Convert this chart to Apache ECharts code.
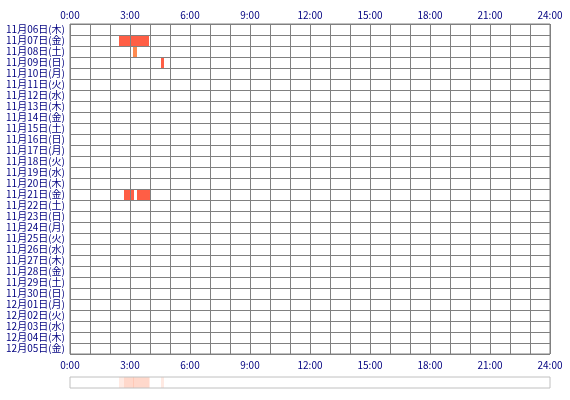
<!DOCTYPE html>
<html>
<head>
<meta charset="utf-8">
<script src="https://cdn.jsdelivr.net/npm/echarts@6/dist/echarts.min.js"></script>
<style>html,body{margin:0;padding:0;background:#fff;}#c{width:570px;height:400px;}</style>
</head>
<body>
<div id="c"></div>
<script>
var days = ['11月06日(木)','11月07日(金)','11月08日(土)','11月09日(日)','11月10日(月)','11月11日(火)','11月12日(水)','11月13日(木)','11月14日(金)','11月15日(土)','11月16日(日)','11月17日(月)','11月18日(火)','11月19日(水)','11月20日(木)','11月21日(金)','11月22日(土)','11月23日(日)','11月24日(月)','11月25日(火)','11月26日(水)','11月27日(木)','11月28日(金)','11月29日(土)','11月30日(日)','12月01日(月)','12月02日(火)','12月03日(水)','12月04日(木)','12月05日(金)'];
// [dayIndex, startHour, endHour, kind]
var sessions = [
  [1, 2.45, 3.95, 0],
  [2, 3.15, 3.35, 1],
  [3, 4.55, 4.7, 0],
  [15, 2.7, 3.2, 0],
  [15, 3.35, 4.0, 0]
];
var kindColors = ['#ff5e45', '#ff8a50'];
var hourTicks = [0,3,6,9,12,15,18,21,24];

var font = {color:'#000080', fontSize:10, fontFamily:'"Noto Sans CJK JP", sans-serif'};
var chart = echarts.init(document.getElementById('c'), null, {renderer:'canvas'});

function xAxisDef(pos, margin) {
  return {
    type:'value', gridIndex:0, position:pos, min:0, max:24, interval:1,
    axisLine:{show:false}, axisTick:{show:false},
    axisLabel:{margin:margin, color:font.color, fontSize:font.fontSize, fontFamily:font.fontFamily,
      formatter:function(v){ return hourTicks.indexOf(v)>=0 ? v+':00' : ''; }},
    splitLine:{show:pos==='top', lineStyle:{color:'#808080', width:1}},
    z:5
  };
}

chart.setOption({
  animation:false,
  backgroundColor:'#fff',
  grid:[
    {left:70, right:20, top:24, height:330, show:true, borderColor:'#808080', borderWidth:1, backgroundColor:'transparent', z:5},
    {left:70, right:20, top:377, height:11, show:true, borderColor:'#c0c0c0', borderWidth:1, backgroundColor:'transparent', z:5}
  ],
  xAxis:[
    xAxisDef('top', 4),
    xAxisDef('bottom', 6),
    {type:'value', gridIndex:1, min:0, max:24, show:false}
  ],
  yAxis:[
    {type:'category', gridIndex:0, data:days, inverse:true, boundaryGap:true,
     axisLine:{show:false}, axisTick:{show:false},
     axisLabel:{margin:5, color:font.color, fontSize:font.fontSize, fontFamily:font.fontFamily, interval:0},
     splitLine:{show:true, interval:0, lineStyle:{color:'#808080', width:1}}, z:5},
    {type:'value', gridIndex:1, min:0, max:1, show:false}
  ],
  series:[
    {type:'custom', xAxisIndex:0, yAxisIndex:0, z:2,
     data:sessions,
     encode:{x:[1,2], y:0},
     renderItem:function(params, api){
       var s = api.coord([api.value(1), api.value(0)]);
       var e = api.coord([api.value(2), api.value(0)]);
       var h = api.size([0,1])[1];
       return {type:'rect', shape:{x:s[0], y:s[1]-h/2, width:e[0]-s[0], height:h},
               style:{fill:kindColors[api.value(3)]}};
     }},
    {type:'custom', xAxisIndex:2, yAxisIndex:1, z:2,
     data:sessions,
     encode:{x:[1,2]},
     renderItem:function(params, api){
       var s = api.coord([api.value(1), 1]);
       var e = api.coord([api.value(2), 0]);
       return {type:'rect', shape:{x:s[0], y:s[1], width:e[0]-s[0], height:e[1]-s[1]},
               style:{fill:'#ff7a50', opacity:0.16}};
     }}
  ]
});
</script>
</body>
</html>
